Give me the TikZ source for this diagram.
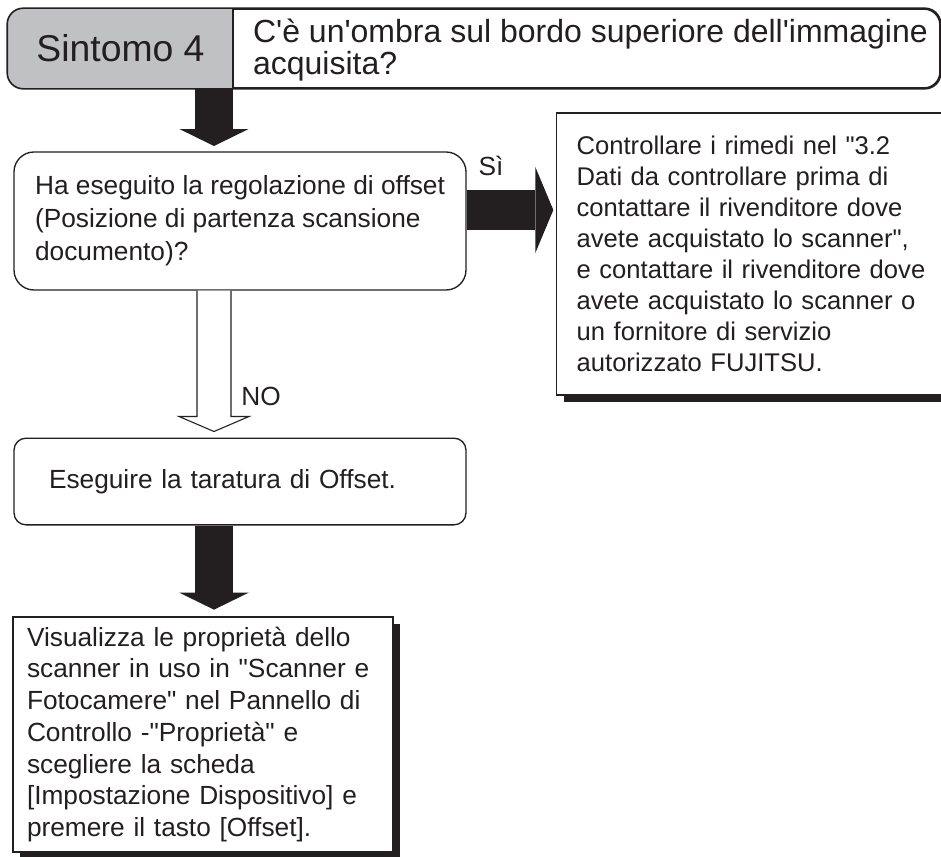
\documentclass[tikz,border=0pt]{standalone}
\usepackage{fontspec}
\setmainfont{Liberation Sans}[Ligatures=TeXOff]
\usetikzlibrary{arrows.meta,calc,shadows}
\definecolor{ink}{RGB}{35,31,32}
\definecolor{symgray}{RGB}{192,193,195}

\begin{document}
\begin{tikzpicture}[x=0.75pt,y=-0.75pt,line width=1pt,color=ink,
  txt/.style={font=\fontsize{19.7}{24}\selectfont},
  box/.style={txt,draw,fill=white,align=left,inner ysep=0pt},
  shadowbox/.style={box,drop shadow={shadow xshift=5.5pt,shadow yshift=-5.5pt,fill=ink,opacity=1}},
  fatarr/.style={line width=28.5pt,-{Triangle[width=52pt,length=12.75pt,line width=0pt]}},
  hollowarr/.style={fill=white,line width=0.8pt,line join=miter}]
% ---------- canvas ----------
\useasboundingbox (0,0) rectangle (941,856);
\clip (0,0) rectangle (941,856);
% ---------- header ----------
\coordinate (split) at (233,0);
\node[draw,fill=white,line width=1.2pt,rounded corners=12pt,minimum width=699pt,minimum height=59.25pt] (head) at (474,48.5) {};
\begin{scope}
  \clip (head.north west) rectangle (split |- head.south);
  \fill[symgray,rounded corners=12pt] (head.north west) rectangle (head.south east);
\end{scope}
\draw[line width=1.2pt,rounded corners=12pt] (head.north west) rectangle (head.south east);
\draw (split |- head.north) -- (split |- head.south);
\node[font=\fontsize{28}{30}\selectfont] (sym) at (120.5,48.5) {Sintomo 4};
\node[anchor=west,align=left,font=\fontsize{24}{24.5}\selectfont] (title) at (248,50)
  {C'è un'ombra sul bordo superiore dell'immagine\\acquisita?};
% ---------- question ----------
\node[box,font=\fontsize{19.7}{24.75}\selectfont,rounded corners=15pt,minimum width=339pt,minimum height=103.5pt] (ask) at (240,221)
  {Ha eseguito la regolazione di offset\\(Posizione di partenza scansione\\documento)?};
% ---------- remedy (right) ----------
\node[shadowbox,font=\fontsize{19.2}{23.25}\selectfont,minimum height=211.5pt,text width=290pt,inner xsep=15pt] (remedy) at (770,254)
  {Controllare i rimedi nel "3.2\\Dati da controllare prima di\\contattare il rivenditore dove\\avete acquistato lo scanner",\\e contattare il rivenditore dove\\avete acquistato lo scanner o\\un fornitore di servizio\\autorizzato FUJITSU.};
% ---------- offset calibration ----------
\node[box,rounded corners=9pt,minimum height=65pt,text width=286.5pt,inner xsep=26.25pt] (calib) at (240,481.5)
  {Eseguire la taratura di Offset.};
% ---------- properties ----------
\node[shadowbox,font=\fontsize{19.7}{23.8}\selectfont,minimum height=176.25pt,text width=264pt,inner xsep=10.5pt] (props) at (203,734.5)
  {Visualizza le proprietà dello\\scanner in uso in "Scanner e\\Fotocamere" nel Pannello di\\Controllo -"Proprietà" e\\scegliere la scheda\\{}[Impostazione Dispositivo] e\\premere il tasto [Offset].};
% ---------- connectors ----------
\coordinate (spine) at (214,0);
\coordinate (si) at (0,210);
\draw[fatarr,shorten >=4pt] (head.south -| spine) -- (ask.north -| spine);
% yes branch
\draw[fatarr,line width=30pt,-{Triangle[width=64.5pt,length=13.5pt,line width=0pt]},shorten >=2pt] (ask.east |- si) -- (remedy.west |- si);
\node[txt] (yes) at (491,166) {Sì};
% no branch (hollow arrow)
\coordinate (n0) at (ask.south -| spine);
\coordinate (n1) at (calib.north -| spine);
\draw[hollowarr] ($(n0)+(-17,0)$) -- ($(n1)+(-17,-21)$) -- ($(n1)+(-35,-21)$) -- ($(n1)+(0,-6)$)
  -- ($(n1)+(35,-21)$) -- ($(n1)+(17,-21)$) -- ($(n0)+(17,0)$);
\node[txt] (no) at (261,396) {NO};
\draw[fatarr,shorten >=5pt] (calib.south -| spine) -- (props.north -| spine);
\end{tikzpicture}
\end{document}
